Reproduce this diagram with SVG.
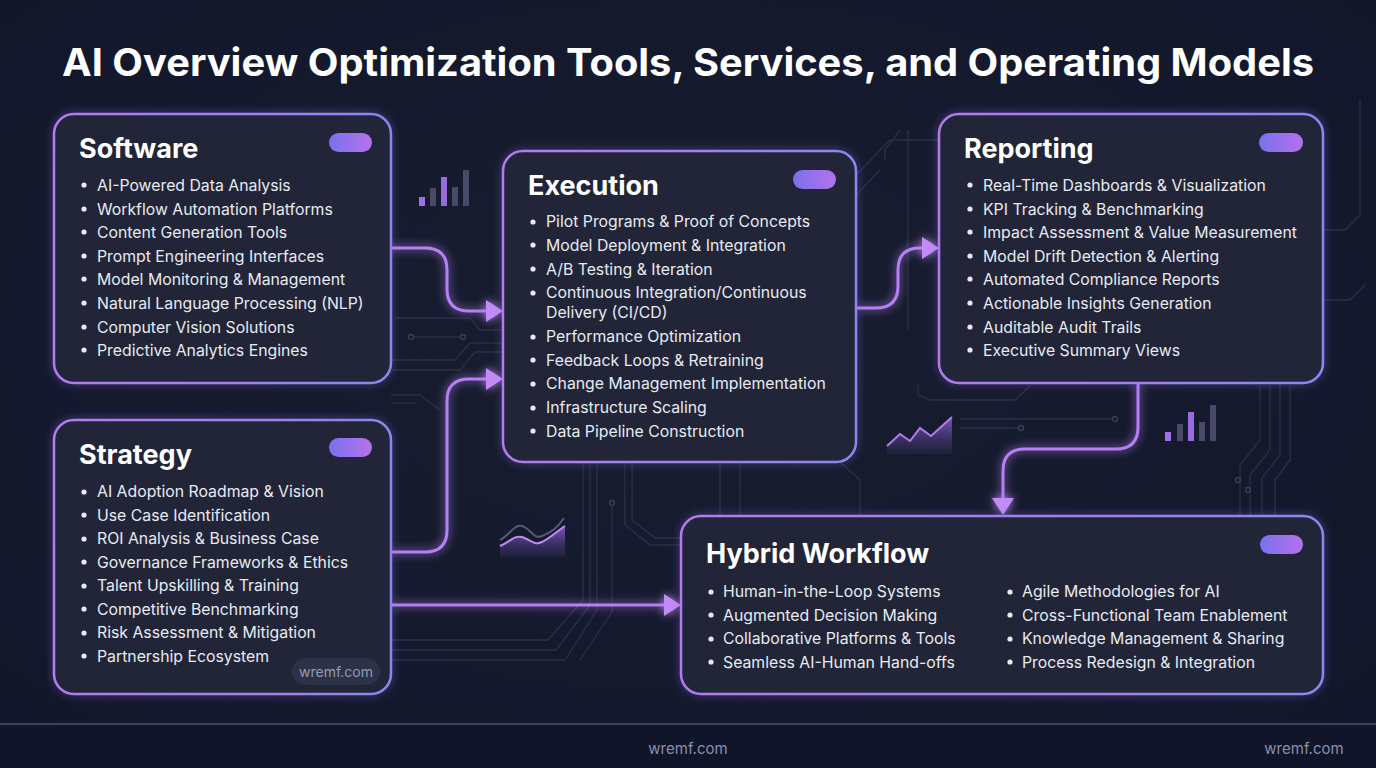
<svg xmlns="http://www.w3.org/2000/svg" width="1376" height="768" viewBox="0 0 1376 768">
<defs>
<radialGradient id="bg" cx="50%" cy="45%" r="75%">
<stop offset="0" stop-color="#181d30"/>
<stop offset="1" stop-color="#11162a"/>
</radialGradient>
<linearGradient id="bord" x1="0" y1="0" x2="1" y2="0">
<stop offset="0" stop-color="#b27cf0"/>
<stop offset="1" stop-color="#8d86f2"/>
</linearGradient>
<linearGradient id="pill" x1="0" y1="0" x2="1" y2="0">
<stop offset="0" stop-color="#7a70ee"/>
<stop offset="1" stop-color="#b472ea"/>
</linearGradient>
<linearGradient id="area" x1="0" y1="0" x2="0" y2="1">
<stop offset="0" stop-color="#8a62d8" stop-opacity="0.85"/>
<stop offset="1" stop-color="#3a3060" stop-opacity="0.3"/>
</linearGradient>
<filter id="glow" x="-30%" y="-30%" width="160%" height="160%">
<feGaussianBlur in="SourceGraphic" stdDeviation="5" result="b"/>
<feMerge><feMergeNode in="b"/><feMergeNode in="SourceGraphic"/></feMerge>
</filter>
<filter id="boxglow" x="-10%" y="-10%" width="120%" height="120%">
<feGaussianBlur stdDeviation="4"/>
</filter>
<style>
.box{fill:#222638;fill-opacity:0.95;stroke:url(#bord);stroke-width:2.5}
.halo{fill:none;stroke:#9a70f0;stroke-width:4;opacity:0.45}
.ttl{font-family:Inter,"Liberation Sans",sans-serif;font-weight:700;font-size:27px;fill:#ffffff}
.it{font-family:Inter,"Liberation Sans",sans-serif;font-size:15.8px;fill:#e8eaf2}
.bul{fill:#e8eaf2}
.trace{fill:none;stroke:#2a3047;stroke-width:1.3}
.dot{fill:none;stroke:#3a4058;stroke-width:1.3}
.conn{fill:none;stroke:#b580f6;stroke-width:3;stroke-linecap:round;stroke-linejoin:round}
.head{fill:#c28cf8}
.foot{font-family:Inter,"Liberation Sans",sans-serif;font-size:15px;fill:#8a90aa}
</style>
</defs>
<rect width="1376" height="768" fill="url(#bg)"/>
<rect y="724" width="1376" height="44" fill="#10152a"/>
<line x1="0" y1="724" x2="1376" y2="724" stroke="#3a4060" stroke-width="2"/>

<!-- background circuit traces -->
<g id="traces">
<path class="trace" d="M395,318 H470 L480,330 H503"/>
<path class="trace" d="M392,360 H455 L470,343 H503"/>
<path class="trace" d="M392,370 H460 L475,352 H503"/>
<circle class="dot" cx="411" cy="337" r="2.5"/><path class="trace" d="M414,337 H460"/><circle class="dot" cx="463" cy="337" r="2.5"/>
<path class="trace" d="M583,462 V600 L548,640 H392"/>
<path class="trace" d="M590,462 V605 L556,650 H392"/>
<path class="trace" d="M597,462 V610 L565,660 H392"/>
<path class="trace" d="M612,506 V612 L580,660"/>
<circle class="dot" cx="612" cy="503" r="2.5"/>
<path class="trace" d="M625,462 V525 L650,545 H681"/>
<path class="trace" d="M632,462 V520 L655,538 H681"/>
<path class="trace" d="M720,462 V515"/>
<path class="trace" d="M740,462 V515"/>
<path class="trace" d="M840,462 L860,480 V515"/>
<path class="trace" d="M908,130 V330"/>
<path class="trace" d="M918,383 V395 L930,400 H1015 L1030,386"/>
<path class="trace" d="M900,130 L885,150 V160"/>
<path class="trace" d="M856,175 L890,140 H939"/>
<path class="trace" d="M856,195 L880,170"/>
<path class="trace" d="M960,419 H1112"/><circle class="dot" cx="1115" cy="419" r="2.5"/>
<path class="trace" d="M960,428 H1018"/><circle class="dot" cx="1021" cy="428" r="2.5"/>
<path class="trace" d="M1260,385 V440 L1240,465 V516"/>
<path class="trace" d="M1270,385 V450 L1250,475 V516"/>
<path class="trace" d="M1280,385 V455 L1262,478 V516"/>
<path class="trace" d="M1290,385 V460 L1275,480 V516"/>
<circle class="dot" cx="1238" cy="480" r="2.5"/><circle class="dot" cx="1248" cy="490" r="2.5"/>
<path class="trace" d="M1323,230 H1345 L1360,215 V100"/>
<path class="trace" d="M1323,300 H1350 L1365,285"/>
<path class="trace" d="M391,395 H420 L440,410"/>
<path class="trace" d="M391,403 H415"/>
</g>

<!-- mini charts -->
<g id="deco">
<rect x="419" y="197" width="6" height="9" fill="#a070e8"/>
<rect x="430" y="188" width="6" height="18" fill="#4a4a68"/>
<rect x="441" y="177" width="6" height="29" fill="#9a6ae0"/>
<rect x="452" y="187" width="6" height="19" fill="#4a4a68"/>
<rect x="463" y="170" width="6" height="36" fill="#4a4a68"/>
<rect x="1165" y="432" width="6" height="9" fill="#a070e8"/>
<rect x="1177" y="424" width="6" height="17" fill="#4a4a68"/>
<rect x="1188" y="412" width="6" height="29" fill="#9a6ae0"/>
<rect x="1199" y="422" width="6" height="19" fill="#4a4a68"/>
<rect x="1210" y="405" width="6" height="36" fill="#4a4a68"/>
<path d="M500,540 C510,535 514,524 522,526 C530,528 534,540 542,536 C550,532 556,530 564,518" fill="none" stroke="#565a78" stroke-width="2"/>
<path d="M500,546 C510,542 514,535 522,537 C530,539 534,546 542,542 C550,538 556,532 565,526 V557 H500 Z" fill="url(#area)"/>
<path d="M500,546 C510,542 514,535 522,537 C530,539 534,546 542,542 C550,538 556,532 565,526" fill="none" stroke="#c08af6" stroke-width="2"/>
<path d="M887,446 L900,434 L910,441 L920,428 L931,436 L952,417 V454 H887 Z" fill="url(#area)"/>
<path d="M887,446 L900,434 L910,441 L920,428 L931,436 L952,417" fill="none" stroke="#b07cf0" stroke-width="2"/>
</g>

<text x="688" y="76" text-anchor="middle" font-family="Inter,'Liberation Sans',sans-serif" font-weight="700" font-size="38" fill="#ffffff" textLength="1252" lengthAdjust="spacingAndGlyphs">AI Overview Optimization Tools, Services, and Operating Models</text>

<!-- connectors -->
<g id="connectors" filter="url(#glow)">
<path class="conn" d="M391,248 H425 Q447,248 447,270 V289 Q447,311 469,311 H488"/>
<polygon class="head" points="486,300 503,311 486,322"/>
<path class="conn" d="M391,552 H425 Q447,552 447,530 V401 Q447,379 469,379 H488"/>
<polygon class="head" points="486,368 503,379 486,390"/>
<path class="conn" d="M391,605 H666"/>
<polygon class="head" points="664,594 681,605 664,616"/>
<path class="conn" d="M856,308 H876 Q898,308 898,286 V270 Q898,248 920,248 H924"/>
<polygon class="head" points="922,237 939,248 922,259"/>
<path class="conn" d="M1138,383 V427 Q1138,449 1116,449 H1025 Q1003,449 1003,471 V500"/>
<polygon class="head" points="992,498 1003,515 1014,498"/>
</g>

<!-- Software -->
<g id="software">
<rect class="halo" x="54" y="114" width="337" height="269" rx="20" filter="url(#boxglow)"/>
<rect class="box" x="54" y="114" width="337" height="269" rx="20"/>
<rect x="329" y="133" width="43" height="19" rx="9.5" fill="url(#pill)"/>
<text class="ttl" x="79" y="158">Software</text>
<g class="bul"><circle cx="84" cy="185" r="2.6"/><circle cx="84" cy="209" r="2.6"/><circle cx="84" cy="232" r="2.6"/><circle cx="84" cy="256" r="2.6"/><circle cx="84" cy="279" r="2.6"/><circle cx="84" cy="303" r="2.6"/><circle cx="84" cy="327" r="2.6"/><circle cx="84" cy="350" r="2.6"/></g>
<text class="it" x="97" y="191">AI-Powered Data Analysis</text>
<text class="it" x="97" y="215">Workflow Automation Platforms</text>
<text class="it" x="97" y="238">Content Generation Tools</text>
<text class="it" x="97" y="262">Prompt Engineering Interfaces</text>
<text class="it" x="97" y="285">Model Monitoring &amp; Management</text>
<text class="it" x="97" y="309">Natural Language Processing (NLP)</text>
<text class="it" x="97" y="333">Computer Vision Solutions</text>
<text class="it" x="97" y="356">Predictive Analytics Engines</text>
</g>

<!-- Execution -->
<g id="execution">
<rect class="halo" x="503" y="151" width="353" height="311" rx="20" filter="url(#boxglow)"/>
<rect class="box" x="503" y="151" width="353" height="311" rx="20"/>
<rect x="793" y="170" width="43" height="19" rx="9.5" fill="url(#pill)"/>
<text class="ttl" x="528" y="195">Execution</text>
<g class="bul"><circle cx="533" cy="222" r="2.6"/><circle cx="533" cy="245" r="2.6"/><circle cx="533" cy="269" r="2.6"/><circle cx="533" cy="293" r="2.6"/><circle cx="533" cy="337" r="2.6"/><circle cx="533" cy="360" r="2.6"/><circle cx="533" cy="384" r="2.6"/><circle cx="533" cy="408" r="2.6"/><circle cx="533" cy="431" r="2.6"/></g>
<text class="it" x="546" y="227">Pilot Programs &amp; Proof of Concepts</text>
<text class="it" x="546" y="251">Model Deployment &amp; Integration</text>
<text class="it" x="546" y="275">A/B Testing &amp; Iteration</text>
<text class="it" x="546" y="298">Continuous Integration/Continuous</text>
<text class="it" x="546" y="318">Delivery (CI/CD)</text>
<text class="it" x="546" y="342">Performance Optimization</text>
<text class="it" x="546" y="366">Feedback Loops &amp; Retraining</text>
<text class="it" x="546" y="389">Change Management Implementation</text>
<text class="it" x="546" y="413">Infrastructure Scaling</text>
<text class="it" x="546" y="437">Data Pipeline Construction</text>
</g>

<!-- Reporting -->
<g id="reporting">
<rect class="halo" x="939" y="114" width="384" height="269" rx="20" filter="url(#boxglow)"/>
<rect class="box" x="939" y="114" width="384" height="269" rx="20"/>
<rect x="1259" y="133" width="44" height="19" rx="9.5" fill="url(#pill)"/>
<text class="ttl" x="964" y="158">Reporting</text>
<g class="bul"><circle cx="970" cy="185" r="2.6"/><circle cx="970" cy="209" r="2.6"/><circle cx="970" cy="232" r="2.6"/><circle cx="970" cy="256" r="2.6"/><circle cx="970" cy="279" r="2.6"/><circle cx="970" cy="303" r="2.6"/><circle cx="970" cy="327" r="2.6"/><circle cx="970" cy="350" r="2.6"/></g>
<text class="it" x="983" y="191">Real-Time Dashboards &amp; Visualization</text>
<text class="it" x="983" y="215">KPI Tracking &amp; Benchmarking</text>
<text class="it" x="983" y="238">Impact Assessment &amp; Value Measurement</text>
<text class="it" x="983" y="262">Model Drift Detection &amp; Alerting</text>
<text class="it" x="983" y="285">Automated Compliance Reports</text>
<text class="it" x="983" y="309">Actionable Insights Generation</text>
<text class="it" x="983" y="333">Auditable Audit Trails</text>
<text class="it" x="983" y="356">Executive Summary Views</text>
</g>

<!-- Strategy -->
<g id="strategy">
<rect class="halo" x="54" y="420" width="337" height="274" rx="20" filter="url(#boxglow)"/>
<rect class="box" x="54" y="420" width="337" height="274" rx="20"/>
<rect x="329" y="438" width="43" height="19" rx="9.5" fill="url(#pill)"/>
<text class="ttl" x="79" y="464">Strategy</text>
<g class="bul"><circle cx="84" cy="492" r="2.6"/><circle cx="84" cy="515" r="2.6"/><circle cx="84" cy="539" r="2.6"/><circle cx="84" cy="562" r="2.6"/><circle cx="84" cy="586" r="2.6"/><circle cx="84" cy="609" r="2.6"/><circle cx="84" cy="633" r="2.6"/><circle cx="84" cy="656" r="2.6"/></g>
<text class="it" x="97" y="497">AI Adoption Roadmap &amp; Vision</text>
<text class="it" x="97" y="521">Use Case Identification</text>
<text class="it" x="97" y="544">ROI Analysis &amp; Business Case</text>
<text class="it" x="97" y="568">Governance Frameworks &amp; Ethics</text>
<text class="it" x="97" y="591">Talent Upskilling &amp; Training</text>
<text class="it" x="97" y="615">Competitive Benchmarking</text>
<text class="it" x="97" y="638">Risk Assessment &amp; Mitigation</text>
<text class="it" x="97" y="662">Partnership Ecosystem</text>
<rect x="292" y="658" width="88" height="27" rx="13.5" fill="#2c3247"/>
<text x="336" y="677" text-anchor="middle" font-family="Inter,'Liberation Sans',sans-serif" font-size="14" fill="#959bb2">wremf.com</text>
</g>

<!-- Hybrid Workflow -->
<g id="hybrid">
<rect class="halo" x="681" y="516" width="642" height="178" rx="20" filter="url(#boxglow)"/>
<rect class="box" x="681" y="516" width="642" height="178" rx="20"/>
<rect x="1260" y="535" width="43" height="19" rx="9.5" fill="url(#pill)"/>
<text class="ttl" x="706" y="563">Hybrid Workflow</text>
<g class="bul"><circle cx="711" cy="592" r="2.6"/><circle cx="711" cy="615" r="2.6"/><circle cx="711" cy="639" r="2.6"/><circle cx="711" cy="662" r="2.6"/><circle cx="1010" cy="592" r="2.6"/><circle cx="1010" cy="615" r="2.6"/><circle cx="1010" cy="639" r="2.6"/><circle cx="1010" cy="662" r="2.6"/></g>
<text class="it" x="723" y="597">Human-in-the-Loop Systems</text>
<text class="it" x="723" y="621">Augmented Decision Making</text>
<text class="it" x="723" y="644">Collaborative Platforms &amp; Tools</text>
<text class="it" x="723" y="668">Seamless AI-Human Hand-offs</text>
<text class="it" x="1022" y="597">Agile Methodologies for AI</text>
<text class="it" x="1022" y="621">Cross-Functional Team Enablement</text>
<text class="it" x="1022" y="644">Knowledge Management &amp; Sharing</text>
<text class="it" x="1022" y="668">Process Redesign &amp; Integration</text>
</g>

<text class="foot" x="688" y="754" text-anchor="middle">wremf.com</text>
<text class="foot" x="1304" y="754" text-anchor="middle">wremf.com</text>
</svg>
